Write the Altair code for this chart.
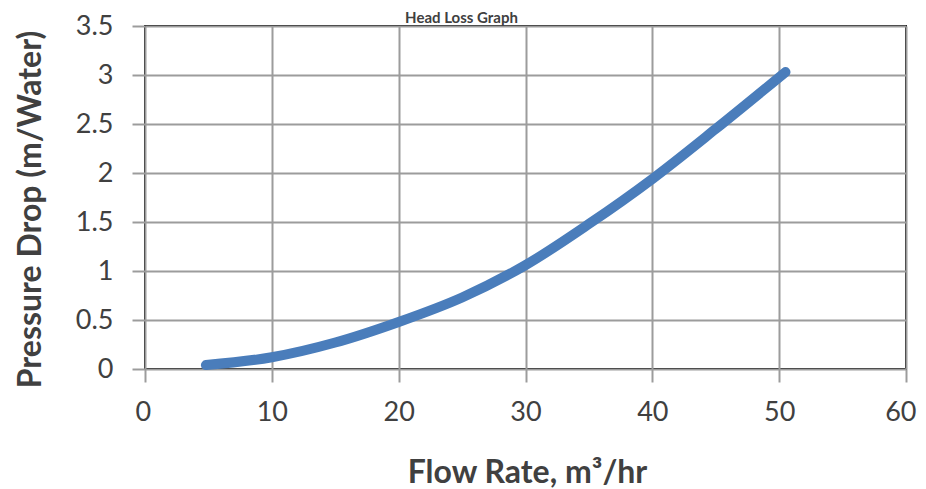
import altair as alt
import pandas as pd

flow = [4.8, 10, 15, 20, 25, 30, 35, 40, 45, 50.5]
drop = [0.04, 0.12, 0.27, 0.48, 0.73, 1.06, 1.48, 1.94, 2.45, 3.03]
x_ticks = [0, 10, 20, 30, 40, 50, 60]
y_ticks = [0, 0.5, 1, 1.5, 2, 2.5, 3, 3.5]

df = pd.DataFrame({"flow": flow, "drop": drop})

FONT = "Lato"
TXT = "#404040"
GRID = "#9c9c9c"

chart = alt.Chart(df).mark_line(
    color="#4a7dbb", strokeWidth=10, strokeCap="round", strokeJoin="round",
    interpolate="monotone"
).encode(
    x=alt.X("flow:Q", scale=alt.Scale(domain=[0, 60], nice=False),
            axis=alt.Axis(values=x_ticks, title="Flow Rate, m³/hr",
                          titleX=382, titleY=113, titleBaseline="alphabetic",
                          titleAnchor="middle", labelFlush=True, labelFlushOffset=10)),
    y=alt.Y("drop:Q", scale=alt.Scale(domain=[0, 3.5], nice=False),
            axis=alt.Axis(values=y_ticks, format=".1~f", title="Pressure Drop (m/Water)",
                          titleX=-105, titleY=183, titleBaseline="alphabetic",
                          titleAnchor="middle", labelFlush=False)),
).properties(
    width=761, height=343,
    autosize=alt.AutoSizeParams(type="none"),
    padding={"left": 137, "top": 18, "right": 12, "bottom": 120},
    title=alt.TitleParams("Head Loss Graph", font=FONT, fontSize=15, fontWeight="bold",
                          color=TXT, anchor="middle", frame="group", dx=-64, offset=3,
                          dy=32, baseline="bottom"),
).configure_view(
    stroke="black", strokeWidth=2
).configure_axis(
    domain=False, grid=True, gridColor=GRID, gridWidth=2, gridOpacity=1,
    ticks=True, tickColor=GRID, tickWidth=2, tickSize=13,
    labelFont=FONT, labelFontSize=27, labelColor=TXT,
    titleFont=FONT, titleFontSize=32, titleFontWeight="bold", titleColor=TXT,
).configure_axisX(
    labelPadding=17
).configure_axisY(
    labelPadding=19
)

chart.save("out.html", embed_options={"renderer": "svg", "actions": False})
